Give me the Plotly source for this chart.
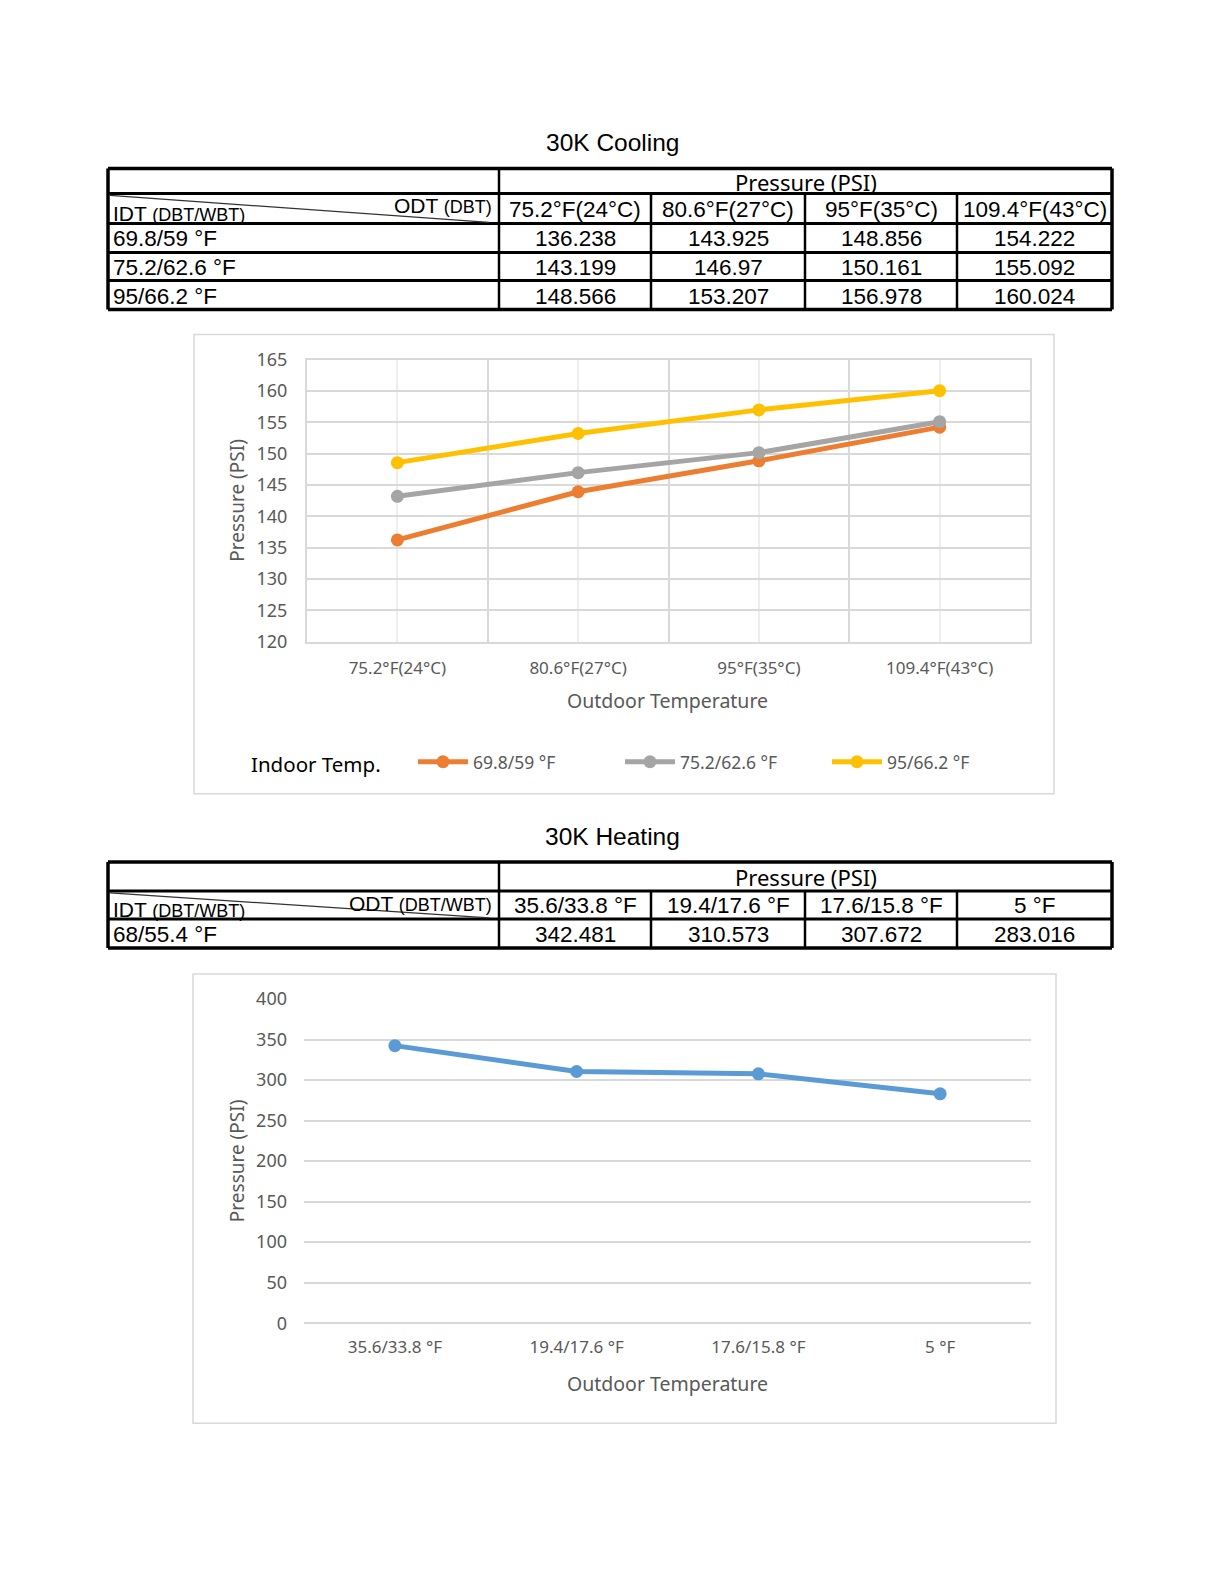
import plotly.graph_objects as go

# page is 1224x1584; the html body has an 8px margin, so the figure is sized to fit inside it
PAGE_W, PAGE_H = 1224, 1584
OFF = 8
W, H = PAGE_W - 2 * OFF, PAGE_H - 2 * OFF
# measured vertical calibration of the rendered page (screen_y = S * y + B)
S_Y, B_Y = 0.984, 12.8

# ---------------- data ----------------
cooling_title = "30K Cooling"
heating_title = "30K Heating"
pressure_header = "Pressure (PSI)"

cooling_odt = ["75.2°F(24°C)", "80.6°F(27°C)", "95°F(35°C)", "109.4°F(43°C)"]
cooling_idt = ["69.8/59 °F", "75.2/62.6 °F", "95/66.2 °F"]
cooling_p_698 = [136.238, 143.925, 148.856, 154.222]
cooling_p_752 = [143.199, 146.97, 150.161, 155.092]
cooling_p_95 = [148.566, 153.207, 156.978, 160.024]
cooling_colors = ["#ED7D31", "#A5A5A5", "#FFC000"]

heating_odt = ["35.6/33.8 °F", "19.4/17.6 °F", "17.6/15.8 °F", "5 °F"]
heating_idt = ["68/55.4 °F"]
heating_p_68 = [342.481, 310.573, 307.672, 283.016]
heating_color = "#5B9BD5"

cooling_yticks = list(range(120, 166, 5))
heating_yticks = list(range(0, 401, 50))

x_title = "Outdoor Temperature"
y_title = "Pressure (PSI)"
legend_title = "Indoor Temp."


def px(x):
    return (x - OFF) / W


def py(y):
    yd = (y - B_Y) / S_Y
    return 1 - (yd - OFF) / H


fig = go.Figure()
shapes = []
annotations = []

TABLE_FONT = "Liberation Sans, Arial, sans-serif"
CHART_FONT = "Noto Sans, Open Sans, sans-serif"
GRID = "#D9D9D9"
TXT = "#595959"


def line(x0, y0, x1, y1, w=3, color="black"):
    shapes.append(dict(type="line", xref="paper", yref="paper",
                       x0=px(x0), y0=py(y0), x1=px(x1), y1=py(y1),
                       line=dict(color=color, width=w), layer="above"))


def text(x, y, s, size=22, xanchor="center", yanchor="middle", color="black",
         family=TABLE_FONT, angle=0):
    annotations.append(dict(xref="paper", yref="paper", x=px(x), y=py(y), text=s,
                            showarrow=False, xanchor=xanchor, yanchor=yanchor,
                            textangle=angle,
                            font=dict(size=size, color=color, family=family)))


def draw_table(col_x, row_y, odt_suffix, col_labels, row_labels, rows):
    left, right = col_x[0], col_x[-1]
    top, bottom = row_y[0], row_y[-1]
    line(left, top, right, top, 3.5)
    line(left, bottom, right, bottom, 3.5)
    line(left, top, left, bottom, 3.5)
    line(right, top, right, bottom, 3.5)
    for y in row_y[1:-1]:
        line(left, y, right, y, 3)
    line(col_x[1], top, col_x[1], bottom, 2.5)
    for x in col_x[2:-1]:
        line(x, row_y[1], x, bottom, 2.5)
    # diagonal split of the corner cell
    line(left + 2, row_y[1] + 2, col_x[1] - 10, row_y[2] - 1, 1.2, "#333333")
    text((col_x[1] + right) / 2, (top + row_y[1]) / 2 + 1, pressure_header,
         size=22, family=CHART_FONT)
    text(col_x[0] + 3, row_y[2] + 4,
         "IDT <span style='font-size:18px'>(DBT/WBT)</span>", size=21,
         xanchor="left", yanchor="bottom")
    text(col_x[1] - 5, row_y[1] - 1,
         "ODT <span style='font-size:18px'>" + odt_suffix + "</span>", size=21,
         xanchor="right", yanchor="top")
    for j, lab in enumerate(col_labels):
        text((col_x[j + 1] + col_x[j + 2]) / 2, (row_y[1] + row_y[2]) / 2 + 1, lab,
             size=22.5)
    for i, (lab, vals) in enumerate(zip(row_labels, rows)):
        yc = (row_y[i + 2] + row_y[i + 3]) / 2 + 1
        text(col_x[0] + 3, yc, lab, xanchor="left", size=22.5)
        for j, v in enumerate(vals):
            text((col_x[j + 1] + col_x[j + 2]) / 2, yc, str(v), size=22.5)


COLS = [108, 499, 651, 805, 957, 1112]

# ---------------- titles & tables ----------------
text(612, 142, cooling_title, size=24.5)
draw_table(COLS, [168, 193, 223, 252, 280, 309], "(DBT)", cooling_odt, cooling_idt,
           [cooling_p_698, cooling_p_752, cooling_p_95])

text(612, 836, heating_title, size=24.5)
draw_table(COLS, [861, 890, 918, 947], "(DBT/WBT)", heating_odt, heating_idt,
           [heating_p_68])

# ---------------- chart frames ----------------
for (x0, y0, x1, y1) in [(194, 334, 1054, 793), (193, 973, 1056, 1422)]:
    shapes.append(dict(type="rect", xref="paper", yref="paper",
                       x0=px(x0), y0=py(y0), x1=px(x1), y1=py(y1),
                       line=dict(color=GRID, width=1.5), layer="below"))

# ---------------- cooling chart ----------------
xi = list(range(len(cooling_odt)))
for name, vals, col in zip(cooling_idt, [cooling_p_698, cooling_p_752, cooling_p_95],
                           cooling_colors):
    fig.add_trace(go.Scatter(x=xi, y=vals, name=name, mode="lines+markers",
                             line=dict(color=col, width=5),
                             marker=dict(color=col, size=13),
                             xaxis="x", yaxis="y"))

# ---------------- heating chart ----------------
fig.add_trace(go.Scatter(x=list(range(len(heating_odt))), y=heating_p_68,
                         name=heating_idt[0], mode="lines+markers",
                         line=dict(color=heating_color, width=5),
                         marker=dict(color=heating_color, size=13),
                         xaxis="x2", yaxis="y2", showlegend=False))

# axis titles and legend caption
text(237, 500, y_title, size=19, color=TXT, family=CHART_FONT, angle=-90)
text(667, 700, x_title, size=19.5, color=TXT, family=CHART_FONT)
text(237, 1160, y_title, size=19, color=TXT, family=CHART_FONT, angle=-90)
text(667, 1382, x_title, size=19.5, color=TXT, family=CHART_FONT)
text(249, 763, legend_title, size=20.5, family=CHART_FONT, xanchor="left")

tickfont = dict(size=17, color=TXT, family=CHART_FONT)
ytickfont = dict(size=18, color=TXT, family=CHART_FONT)

fig.update_layout(
    width=W, height=H, autosize=False,
    margin=dict(l=0, r=0, t=0, b=0),
    paper_bgcolor="white", plot_bgcolor="white",
    shapes=shapes, annotations=annotations,
    xaxis=dict(domain=[px(307), px(1030)], anchor="y", range=[-0.5, 3.5],
               tickmode="array", tickvals=xi, ticktext=cooling_odt,
               showgrid=True, gridcolor="#EEEEEE", gridwidth=2,
               minor=dict(tickvals=[0.5, 1.5, 2.5], showgrid=True,
                          gridcolor=GRID, gridwidth=2),
               showline=True, mirror=True, linecolor=GRID, linewidth=2,
               zeroline=False, ticks="", tickfont=tickfont, ticklabelstandoff=10,
               fixedrange=True),
    yaxis=dict(domain=[py(641), py(359)], anchor="x", range=[120, 165],
               tickmode="array", tickvals=cooling_yticks,
               showgrid=True, gridcolor=GRID, gridwidth=2,
               showline=True, mirror=True, linecolor=GRID, linewidth=2,
               zeroline=False, ticks="", tickfont=ytickfont, ticklabelstandoff=14,
               fixedrange=True),
    xaxis2=dict(domain=[px(304), px(1031)], anchor="y2", range=[-0.5, 3.5],
                tickmode="array", tickvals=list(range(len(heating_odt))),
                ticktext=heating_odt, showgrid=False, showline=False,
                zeroline=False, ticks="", tickfont=tickfont, ticklabelstandoff=12,
                fixedrange=True),
    yaxis2=dict(domain=[py(1322), py(998)], anchor="x2", range=[0, 400],
                tickmode="array", tickvals=heating_yticks,
                showgrid=True, gridcolor=GRID, gridwidth=2,
                zeroline=True, zerolinecolor=GRID, zerolinewidth=2,
                showline=False, ticks="", tickfont=ytickfont, ticklabelstandoff=16,
                fixedrange=True),
    legend=dict(orientation="h", x=px(413), xanchor="left", y=py(761),
                yanchor="middle", bgcolor="rgba(0,0,0,0)",
                font=dict(size=17.5, color=TXT, family=CHART_FONT),
                itemwidth=50, entrywidth=142, entrywidthmode="pixels"),
    showlegend=True,
)

fig.write_html("out.html")
